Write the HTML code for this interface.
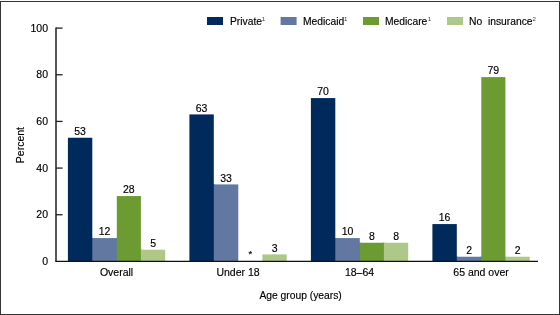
<!DOCTYPE html>
<html><head><meta charset="utf-8"><style>
html,body{margin:0;padding:0;background:#fff;}
svg{display:block;will-change:transform;}
text{font-family:"Liberation Sans",sans-serif;fill:#000;stroke:#000;stroke-width:0.15px;}
.v{font-size:10.5px;text-anchor:middle;}
.t{font-size:10.5px;text-anchor:end;}
.x{font-size:10.5px;text-anchor:middle;}
.l{font-size:10.3px;}
.sup{font-size:6.1px;stroke-width:0;fill:#3a3a3a;}
</style></head><body>
<svg width="560" height="315" viewBox="0 0 560 315">
<rect x="0.5" y="1.5" width="559" height="313" fill="#fff" stroke="#353535" stroke-width="1"/>

<rect x="207" y="17" width="16" height="8" fill="#002a5b"/>
<text x="230" y="24.8" class="l">Private</text><text x="261.8" y="20.6" class="sup">1</text>
<rect x="280.6" y="17" width="16" height="8" fill="#6378a1"/>
<text x="303" y="24.8" class="l">Medicaid</text><text x="344.1" y="20.6" class="sup">1</text>
<rect x="363" y="17" width="16" height="8" fill="#6c9c31"/>
<text x="385" y="24.8" class="l">Medicare</text><text x="427.8" y="20.6" class="sup">1</text>
<rect x="447" y="17" width="16" height="8" fill="#aec88a"/>
<text x="469" y="24.8" class="l">No&#160; insurance</text><text x="532.6" y="20.9" class="sup">2</text>

<rect x="91.30" y="238.07" width="2" height="23.33" fill="#002a5b"/><rect x="115.80" y="238.07" width="2" height="23.33" fill="#6378a1"/><rect x="139.90" y="249.73" width="2" height="11.67" fill="#6c9c31"/><rect x="67.90" y="137.75" width="24.40" height="123.65" fill="#002a5b"/><text x="80.10" y="135.15" class="v">53</text><rect x="92.30" y="238.07" width="24.50" height="23.33" fill="#6378a1"/><text x="104.55" y="235.47" class="v">12</text><rect x="116.80" y="196.08" width="24.10" height="65.32" fill="#6c9c31"/><text x="128.85" y="193.48" class="v">28</text><rect x="140.90" y="249.73" width="24.30" height="11.67" fill="#aec88a"/><text x="153.05" y="247.13" class="v">5</text><text x="116.55" y="276" class="x">Overall</text><rect x="212.80" y="184.41" width="2" height="76.99" fill="#002a5b"/><rect x="189.40" y="114.42" width="24.40" height="146.98" fill="#002a5b"/><text x="201.60" y="111.82" class="v">63</text><rect x="213.80" y="184.41" width="24.50" height="76.99" fill="#6378a1"/><text x="226.05" y="181.81" class="v">33</text><text x="250.35" y="256.90" class="v" style="font-size:9.5px;fill:#000">*</text><rect x="262.40" y="254.40" width="24.30" height="7.00" fill="#aec88a"/><text x="274.55" y="251.80" class="v">3</text><text x="238.05" y="276" class="x">Under 18</text><rect x="334.30" y="238.07" width="2" height="23.33" fill="#002a5b"/><rect x="358.80" y="242.74" width="2" height="18.66" fill="#6378a1"/><rect x="382.90" y="242.74" width="2" height="18.66" fill="#6c9c31"/><rect x="310.90" y="98.09" width="24.40" height="163.31" fill="#002a5b"/><text x="323.10" y="95.49" class="v">70</text><rect x="335.30" y="238.07" width="24.50" height="23.33" fill="#6378a1"/><text x="347.55" y="235.47" class="v">10</text><rect x="359.80" y="242.74" width="24.10" height="18.66" fill="#6c9c31"/><text x="371.85" y="240.14" class="v">8</text><rect x="383.90" y="242.74" width="24.30" height="18.66" fill="#aec88a"/><text x="396.05" y="240.14" class="v">8</text><text x="359.55" y="276" class="x">18–64</text><rect x="455.80" y="256.73" width="2" height="4.67" fill="#002a5b"/><rect x="480.30" y="256.73" width="2" height="4.67" fill="#6378a1"/><rect x="504.40" y="256.73" width="2" height="4.67" fill="#6c9c31"/><rect x="432.40" y="224.07" width="24.40" height="37.33" fill="#002a5b"/><text x="444.60" y="221.47" class="v">16</text><rect x="456.80" y="256.73" width="24.50" height="4.67" fill="#6378a1"/><text x="469.05" y="254.13" class="v">2</text><rect x="481.30" y="77.09" width="24.10" height="184.31" fill="#6c9c31"/><text x="493.35" y="74.49" class="v">79</text><rect x="505.40" y="256.73" width="24.30" height="4.67" fill="#aec88a"/><text x="517.55" y="254.13" class="v">2</text><text x="481.05" y="276" class="x">65 and over</text>
<line x1="56" y1="27.45" x2="56" y2="261.40" stroke="#111" stroke-width="1.4"/>
<line x1="55.35" y1="261.40" x2="538" y2="261.40" stroke="#111" stroke-width="1.3"/>
<text x="48" y="265.00" class="t">0</text><line x1="56" y1="214.74" x2="62.6" y2="214.74" stroke="#222" stroke-width="1.3"/><text x="48" y="218.34" class="t">20</text><line x1="56" y1="168.08" x2="62.6" y2="168.08" stroke="#222" stroke-width="1.3"/><text x="48" y="171.68" class="t">40</text><line x1="56" y1="121.42" x2="62.6" y2="121.42" stroke="#222" stroke-width="1.3"/><text x="48" y="125.02" class="t">60</text><line x1="56" y1="74.76" x2="62.6" y2="74.76" stroke="#222" stroke-width="1.3"/><text x="48" y="78.36" class="t">80</text><line x1="56" y1="28.10" x2="62.6" y2="28.10" stroke="#222" stroke-width="1.3"/><text x="48" y="31.70" class="t">100</text>
<text x="23.8" y="145.1" class="l" style="font-size:10.5px;text-anchor:middle" transform="rotate(-90 23.8 145.1)">Percent</text>
<text x="300.6" y="299.1" class="x" style="font-size:10.3px">Age group (years)</text>
</svg>
</body></html>
